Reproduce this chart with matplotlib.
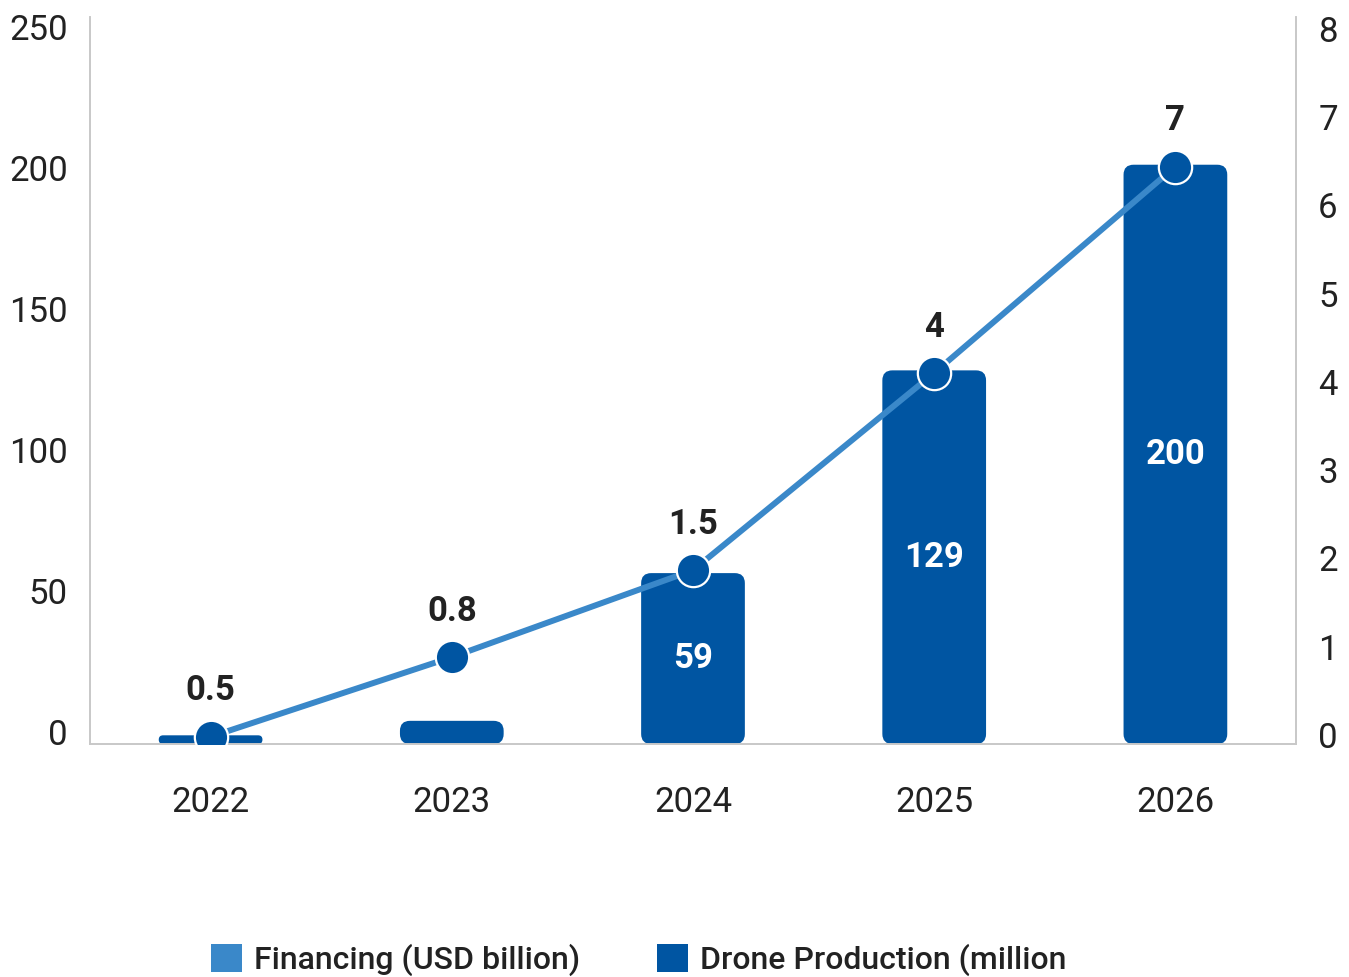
import matplotlib
matplotlib.use("Agg")
import matplotlib.pyplot as plt
from matplotlib.patches import FancyBboxPatch, Patch
from matplotlib.transforms import ScaledTranslation
import numpy as np

# data
years = ["2022", "2023", "2024", "2025", "2026"]
drone_production = [3, 8, 59, 129, 200]          # million, left axis
financing_labels = ["0.5", "0.8", "1.5", "4", "7"]  # USD billion, as printed
financing_level = [0.08, 0.96, 1.92, 4.1, 6.38]  # where the points sit on the right axis

BAR_COLOR = "#0055a2"
LINE_COLOR = "#3a88c9"
TEXT_COLOR = "#222222"
SPINE_COLOR = "#c8c8c8"

plt.rcParams["font.family"] = ["Roboto", "DejaVu Sans"]

W, H = 1349, 977
fig = plt.figure(figsize=(W / 100, H / 100), dpi=100)
ax_l, ax_b, ax_w, ax_h = 90, 744, 1206, 727
ax = fig.add_axes([ax_l / W, (H - ax_b) / H, ax_w / W, ax_h / H])
ax2 = ax.twinx()

y_top = 251
ax.set_xlim(-0.5, len(years) - 0.5)
ax.set_ylim(0, y_top)
ax2.set_ylim(0, 8 * y_top / 250)

# rounded bars (corner radius in pixels, aspect-corrected)
px_x = ax_w / len(years)
px_y = ax_h / y_top
aspect = px_x / px_y
radius_px = 10
bar_w = 0.43
x = np.arange(len(years))
for xi, h in zip(x, drone_production):
    r = min(radius_px / px_x, (h * px_y / 2) / px_x)
    patch = FancyBboxPatch((xi - bar_w / 2, 0), bar_w, h,
                           boxstyle=f"round,pad=0,rounding_size={r}",
                           mutation_aspect=aspect,
                           facecolor=BAR_COLOR, edgecolor="none", zorder=2)
    ax.add_patch(patch)
    if h > 30:
        ax.text(xi, h / 2, str(h), ha="center", va="center", color="white",
                fontsize=25, fontweight="bold", zorder=5)

# financing line on the right axis
ax2.plot(x, financing_level, color=LINE_COLOR, linewidth=4.3, zorder=3,
         solid_capstyle="round")
ax2.plot(x, financing_level, linestyle="none", marker="o", markersize=24,
         markerfacecolor=BAR_COLOR, markeredgecolor="white",
         markeredgewidth=1.6, zorder=4)
for xi, yv, lab in zip(x, financing_level, financing_labels):
    ax2.annotate(lab, (xi, yv), xytext=(0, 33), textcoords="offset points",
                 ha="center", va="center", fontsize=25, fontweight="bold",
                 color=TEXT_COLOR, zorder=5)

# axes styling
for a in (ax, ax2):
    a.spines["top"].set_visible(False)
    for s in ("left", "right", "bottom"):
        a.spines[s].set_color(SPINE_COLOR)
        a.spines[s].set_linewidth(1.2)
ax2.set_zorder(ax.get_zorder() + 1)
ax2.patch.set_visible(False)

left_ticks = [0, 50, 100, 150, 200, 250]
right_ticks = list(range(0, 9))
ax.set_yticks(left_ticks)
ax2.set_yticks(right_ticks)
ax.set_xticks(x)
ax.set_xticklabels(years)
ax.tick_params(axis="y", length=0, pad=16, labelsize=25, labelcolor=TEXT_COLOR)
ax.tick_params(axis="x", length=0, pad=30, labelsize=25, labelcolor=TEXT_COLOR)
ax2.tick_params(axis="y", length=0, pad=16, labelsize=25, labelcolor=TEXT_COLOR)

# the reference spaces its y tick labels a little tighter than the grid;
# nudge each label (pixels, positive = up)
def nudge(axis_obj, ticks, base, slope):
    for tick, v in zip(axis_obj.get_major_ticks(), ticks):
        dy = base - slope * v
        for lab in (tick.label1, tick.label2):
            lab.set_transform(lab.get_transform() +
                              ScaledTranslation(0, dy / 100, fig.dpi_scale_trans))

nudge(ax.yaxis, left_ticks, 12, 0.076)
nudge(ax2.yaxis, right_ticks, 9, 2.25)

# legend
handles = [Patch(facecolor=LINE_COLOR, edgecolor="none", label="Financing (USD billion)"),
           Patch(facecolor=BAR_COLOR, edgecolor="none", label="Drone Production (million")]
leg = fig.legend(handles=handles, loc="center", bbox_to_anchor=(639 / W, 1 - 960 / H),
                 ncol=2, frameon=False, fontsize=23, handlelength=0.95,
                 handleheight=0.95, handletextpad=0.4, columnspacing=2.4)
for t in leg.get_texts():
    t.set_color(TEXT_COLOR)
    t.set_fontweight("medium")

fig.savefig("out.png", dpi=100, facecolor="white")
